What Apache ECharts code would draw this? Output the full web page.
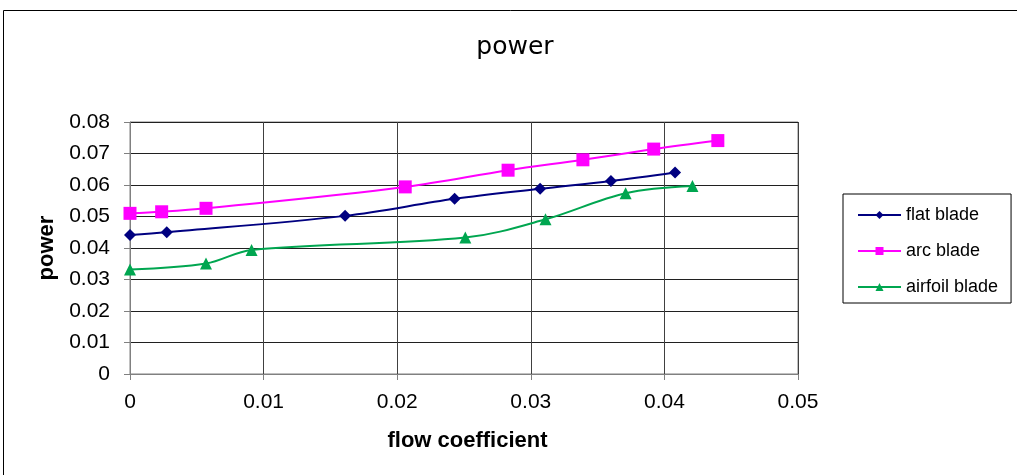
<!DOCTYPE html>
<html>
<head>
<meta charset="utf-8">
<script src="https://cdn.jsdelivr.net/npm/echarts@6/dist/echarts.min.js"></script>
<style>html,body{margin:0;padding:0;background:#fff}#c{width:1017px;height:475px}</style>
</head>
<body>
<div id="c"></div>
<script>
const chartTitle = 'power';
const seriesNames = ['flat blade', 'arc blade', 'airfoil blade'];
const flatX = [0, 0.00275, 0.0161, 0.0243, 0.0307, 0.0360, 0.0408];
const flatY = [0.0441, 0.0450, 0.0502, 0.0556, 0.0588, 0.0613, 0.0640];
const arcX = [0, 0.00237, 0.00569, 0.0206, 0.0283, 0.0339, 0.0392, 0.0440];
const arcY = [0.0510, 0.0515, 0.0526, 0.0594, 0.0647, 0.0680, 0.0714, 0.0741];
const airX = [0, 0.00569, 0.0091, 0.0251, 0.0311, 0.0371, 0.0421];
const airY = [0.0332, 0.0351, 0.0394, 0.0433, 0.0491, 0.0574, 0.0597];
const xTicks = [0, 0.01, 0.02, 0.03, 0.04, 0.05];
const yTicks = [0, 0.01, 0.02, 0.03, 0.04, 0.05, 0.06, 0.07, 0.08];

const zip = (xs, ys) => xs.map((x, i) => [x, ys[i]]);
const chart = echarts.init(document.getElementById('c'));
const font = '"Liberation Sans", Arial, sans-serif';
const fmt = ticks => v => ticks.includes(+v.toFixed(2)) ? String(+v.toFixed(2)) : '';
const mk = (name, xs, ys, color, symbol, size) => ({
  name, type: 'line', data: zip(xs, ys), smooth: 0.35,
  symbol, symbolSize: size, showSymbol: true,
  lineStyle: { color, width: 2 }, itemStyle: { color },
  emphasis: { disabled: true }, animation: false
});
chart.setOption({
  animation: false,
  graphic: [
    { type: 'rect', shape: { x: 3.5, y: 10.5, width: 1030, height: 480 }, style: { fill: 'none', stroke: '#000', lineWidth: 1 }, z: -1 },
    { type: 'text', x: 515, y: 47, style: { text: chartTitle, textAlign: 'center', textVerticalAlign: 'middle', fill: '#000', font: '500 25px "DejaVu Sans", sans-serif' } }
  ],
  legend: {
    orient: 'vertical', left: 843, top: 194,
    padding: [12, 13, 7, 14], itemGap: 18, itemWidth: 43, itemHeight: 10,
    borderColor: '#000', borderWidth: 1,
    textStyle: { fontFamily: font, fontSize: 18, color: '#000', height: 18, lineHeight: 18 },
    data: seriesNames
  },
  grid: { left: 130, top: 122, width: 668, height: 252, show: true, borderColor: '#808080', borderWidth: 1 },
  xAxis: {
    type: 'value', min: 0, max: 0.05, interval: 0.01,
    name: 'flow coefficient', nameLocation: 'middle', nameGap: 56,
    nameTextStyle: { fontFamily: font, fontSize: 22, fontWeight: 'bold', color: '#000', padding: [0, 0, 0, 7] },
    axisLine: { show: true, onZero: false, lineStyle: { color: '#808080' } },
    axisTick: { show: true, inside: false, length: 6, lineStyle: { color: '#808080' } },
    axisLabel: { fontFamily: font, fontSize: 21, color: '#000', margin: 18, formatter: fmt(xTicks) },
    splitLine: { show: true, lineStyle: { color: '#404040', width: 1 } }
  },
  yAxis: {
    type: 'value', min: 0, max: 0.08, interval: 0.01,
    name: 'power', nameLocation: 'middle', nameGap: 63, nameRotate: 90,
    nameTextStyle: { fontFamily: font, fontSize: 22, fontWeight: 'bold', color: '#000' },
    axisLine: { show: true, lineStyle: { color: '#808080' } },
    axisTick: { show: true, inside: false, length: 6, lineStyle: { color: '#808080' } },
    axisLabel: { fontFamily: font, fontSize: 21, color: '#000', margin: 20, formatter: fmt(yTicks) },
    splitLine: { show: true, lineStyle: { color: '#202020', width: 1 } }
  },
  series: [
    mk(seriesNames[0], flatX, flatY, '#000080', 'diamond', 12),
    mk(seriesNames[1], arcX, arcY, '#FF00FF', 'rect', 13),
    mk(seriesNames[2], airX, airY, '#00A650', 'triangle', 12)
  ]
});
</script>
</body>
</html>
